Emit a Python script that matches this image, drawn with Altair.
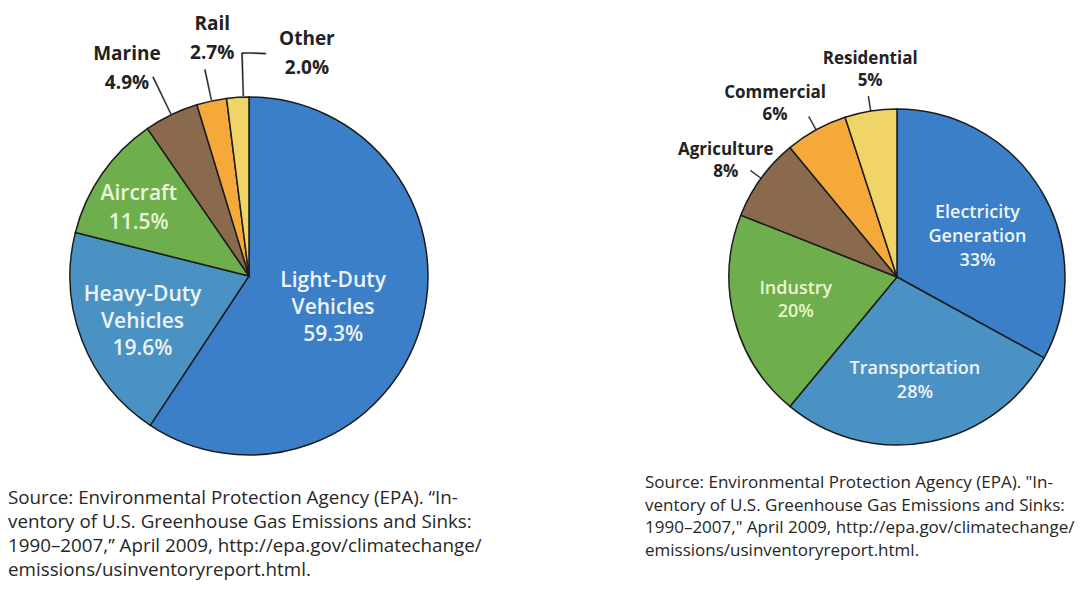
import altair as alt
import pandas as pd

# ---------------- data ----------------
left_categories = ["Light-Duty Vehicles", "Heavy-Duty Vehicles", "Aircraft", "Marine", "Rail", "Other"]
left_values = [59.3, 19.6, 11.5, 4.9, 2.7, 2.0]
left_colors = ["#3b7fc9", "#4a92c4", "#6fae4c", "#8a6a4c", "#f4a93a", "#f1d467"]

right_categories = ["Electricity Generation", "Transportation", "Industry", "Agriculture", "Commercial", "Residential"]
right_values = [33, 28, 20, 8, 6, 5]
right_colors = ["#3b7fc9", "#4a92c4", "#6fae4c", "#8a6a4c", "#f4a93a", "#f1d467"]

source_left = [
    "Source: Environmental Protection Agency (EPA). \u201cIn-",
    "ventory of U.S. Greenhouse Gas Emissions and Sinks:",
    "1990\u20132007,\u201d April 2009, http://epa.gov/climatechange/",
    "emissions/usinventoryreport.html.",
]
source_right = [
    "Source: Environmental Protection Agency (EPA). \"In-",
    "ventory of U.S. Greenhouse Gas Emissions and Sinks:",
    "1990\u20132007,\" April 2009, http://epa.gov/climatechange/",
    "emissions/usinventoryreport.html.",
]


def make_df(cats, vals, fmt):
    rows = []
    for i, (c, v) in enumerate(zip(cats, vals)):
        name = c.replace(" ", "\n")
        rows.append({"cat": c, "value": v, "idx": i, "label": name + "\n" + format(v, fmt) + "%"})
    return pd.DataFrame(rows)


left_df = make_df(left_categories, left_values, ".1f")
right_df = make_df(right_categories, right_values, "d")

THETA = alt.Scale(domain=[0, 100])
COLOR = alt.Scale(domain=left_categories + right_categories,
                  range=list(left_colors) + list(right_colors))
LINE = "#1c1c1c"
FONT = "Open Sans"


def pie(df, cx, cy, R, labels, leaders, tails):
    layers = []
    layers.append(
        alt.Chart(df).mark_arc(outerRadius=R, stroke=LINE, strokeWidth=1.5).encode(
            theta=alt.Theta("value:Q", stack=True, scale=THETA),
            color=alt.Color("cat:N", scale=COLOR, legend=None),
            order=alt.Order("idx:Q"),
            x=alt.value(cx), y=alt.value(cy),
        )
    )
    base = alt.Chart(df).transform_window(
        cum="sum(value)", sort=[alt.SortField("idx")], frame=[None, 0]
    ).transform_calculate(mid="datum.cum - datum.value / 2")

    for i, (r, shift, style) in labels.items():
        n_lines = df.loc[i, "label"].count("\n") + 1
        dy = -(n_lines - 1) * style["lineHeight"] / 2
        layers.append(
            base.transform_filter(f"datum.idx == {i}")
            .transform_calculate(lt=f"datum.mid + ({shift})")
            .mark_text(radius=r, align="center", baseline="middle", lineBreak="\n", font=FONT,
                       dy=dy, **style)
            .encode(theta=alt.Theta("lt:Q", stack=None, scale=THETA), text="label:N",
                    x=alt.value(cx), y=alt.value(cy))
        )
    for i, (r1, r2, shift) in leaders.items():
        layers.append(
            base.transform_filter(f"datum.idx == {i}")
            .transform_calculate(a1=f"datum.mid + ({shift}) - 0.04", a2=f"datum.mid + ({shift}) + 0.04")
            .mark_arc(innerRadius=r1, outerRadius=r2, color=LINE, stroke=LINE, strokeWidth=0.5)
            .encode(theta=alt.Theta("a1:Q", stack=None, scale=THETA), theta2="a2:Q",
                    x=alt.value(cx), y=alt.value(cy))
        )
    for i, (r, s1, s2) in tails.items():
        layers.append(
            base.transform_filter(f"datum.idx == {i}")
            .transform_calculate(a1=f"datum.mid + ({s1})", a2=f"datum.mid + ({s2})")
            .mark_arc(innerRadius=r - 0.6, outerRadius=r + 0.6, color=LINE, stroke=LINE, strokeWidth=0.4)
            .encode(theta=alt.Theta("a1:Q", stack=None, scale=THETA), theta2="a2:Q",
                    x=alt.value(cx), y=alt.value(cy))
        )
    return layers


inner_l = dict(fontSize=21, fontWeight=600, lineHeight=27, color="#eef3f6")
inner_lg = dict(fontSize=21, fontWeight=600, lineHeight=29, color="#eaf4dc")
outer_l = dict(fontSize=19, fontWeight="bold", lineHeight=29, color="#222222")

left_labels = {
    0: (90, 1.15, inner_l),
    1: (116, -0.6, inner_l),
    2: (129, -0.95, inner_lg),
    3: (241, -1.3, outer_l),
    4: (240, 0.9, outer_l),
    5: (230, 5.05, outer_l),
}
left_leaders = {3: (180, 221, 0.0), 4: (180, 211, 0.0), 5: (180, 223, 0.5)}
left_tails = {5: (223, 0.5, 2.2)}

inner_r = dict(fontSize=18, fontWeight=600, lineHeight=24, color="#eef3f6")
inner_rg = dict(fontSize=18, fontWeight=600, lineHeight=23, color="#eaf5d0")
outer_r = dict(fontSize=17, fontWeight="bold", lineHeight=22, color="#222222")

right_labels = {
    0: (90, 1.1, inner_r),
    1: (106, 0.3, inner_r),
    2: (104, 0.3, inner_rg),
    3: (207, -0.5, outer_r),
    4: (212, -1.75, outer_r),
    5: (209, 0.45, outer_r),
}
right_leaders = {3: (168, 181, 0.0), 4: (168, 183, 0.0), 5: (168, 183, 0.0)}

layers = []
layers += pie(left_df, 249, 276, 179, left_labels, left_leaders, left_tails)
layers += pie(right_df, 897, 277, 168, right_labels, right_leaders, {})

layers.append(
    alt.Chart(pd.DataFrame({"text": ["\n".join(source_left)]}))
    .mark_text(align="left", baseline="alphabetic", lineBreak="\n", font=FONT, fontSize=18.8,
               fontWeight=500, lineHeight=24, color="#262626")
    .encode(text="text:N", x=alt.value(8), y=alt.value(504))
)
layers.append(
    alt.Chart(pd.DataFrame({"text": ["\n".join(source_right)]}))
    .mark_text(align="left", baseline="alphabetic", lineBreak="\n", font=FONT, fontSize=17,
               fontWeight=500, lineHeight=22.7, color="#262626")
    .encode(text="text:N", x=alt.value(645), y=alt.value(488))
)

chart = alt.layer(*layers).properties(
    width=1086, height=596, padding=0, autosize=alt.AutoSizeParams(type="none"),
    background="white",
).configure_view(stroke=None)

chart.save("out.html", embed_options={"renderer": "svg", "actions": False})
